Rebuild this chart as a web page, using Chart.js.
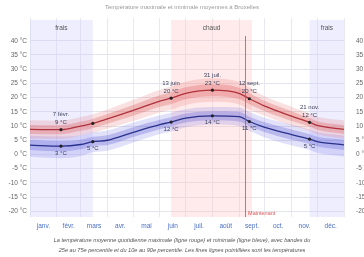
<!DOCTYPE html>
<html><head><meta charset="utf-8">
<script src="https://cdn.jsdelivr.net/npm/chart.js@4/dist/chart.umd.min.js"></script>
<style>html,body{margin:0;padding:0;background:#fff}#c{display:block}</style>
</head><body>
<canvas id="c" width="364" height="257"></canvas>
<script>
// ---- data ----
const monthNames = ['janv.','févr.','mars','avr.','mai','juin','juil.','août','sept.','oct.','nov.','déc.'];
const monthStarts = [0,31,59,90,120,151,181,212,243,273,304,334,365];
const yTickValues = [-20,-15,-10,-5,0,5,10,15,20,25,30,35,40];

const days   = [0, 36, 59, 73, 90, 120, 151, 164, 181, 212, 243, 255, 273, 304, 325, 334, 365];
const high   = [8.8, 8.7, 10, 10.9, 12.5, 15.5, 18.8, 19.8, 21.5, 22.6, 21.5, 19.6, 17, 13.5, 11.3, 10.2, 8.8];
const low    = [3.3, 2.9, 3.5, 4.5, 5.0, 7.8, 10.5, 11.4, 12.8, 13.6, 13.3, 11.6, 9.5, 7, 5.4, 4.5, 3.4];
const high90 = [12, 11.9, 13.2, 14.1, 15.8, 19.2, 22.8, 23.9, 25.6, 26.8, 25.5, 23.5, 20.5, 16.8, 14.4, 13.3, 12];
const high75 = [10.4, 10.3, 11.6, 12.5, 14.2, 17.4, 20.8, 21.9, 23.6, 24.7, 23.5, 21.5, 18.8, 15.2, 12.8, 11.7, 10.4];
const high25 = [7.2, 7.1, 8.3, 9.2, 10.8, 13.6, 16.8, 17.7, 19.4, 20.5, 19.5, 17.7, 15.2, 11.8, 9.8, 8.7, 7.2];
const high10 = [5.6, 5.5, 6.7, 7.6, 9.1, 11.8, 14.8, 15.7, 17.4, 18.5, 17.6, 15.8, 13.5, 10.2, 8.3, 7.1, 5.6];
const low90  = [6.6, 6.3, 6.8, 7.8, 8.4, 11.2, 13.8, 14.7, 15.9, 16.7, 16.5, 14.9, 12.9, 10.5, 8.7, 7.8, 6.7];
const low75  = [5.1, 4.7, 5.2, 6.2, 6.8, 9.6, 12.2, 13.1, 14.4, 15.2, 15, 13.3, 11.3, 8.8, 7.1, 6.2, 5.2];
const low25  = [1.6, 1.1, 1.8, 2.9, 3.3, 6.1, 8.9, 9.8, 11.2, 12, 11.6, 10, 7.8, 5.2, 3.7, 2.8, 1.6];
const low10  = [-0.8, -1.3, -0.5, 0.8, 1.3, 4.2, 7.2, 8.1, 9.6, 10.5, 10, 8.3, 6, 3.2, 1.6, 0.6, -0.8];

const markDays      = [36, 73, 164, 212, 255, 325];
const markDates     = ['7 févr.', '', '13 juin', '31 juil.', '12 sept.', '21 nov.'];
const markHighTexts = ['9 °C', '', '20 °C', '23 °C', '20 °C', '12 °C'];
const markLowTexts  = ['3 °C', '5 °C', '12 °C', '14 °C', '11 °C', '5 °C'];

const seasonNames = ['frais', 'chaud', 'frais'];
const seasonStart = [0, 164, 325];
const seasonEnd   = [73, 258, 365];
const nowDay = 250;
const nowLabel = 'Maintenant';

const titleText = 'Température maximale et minimale moyennes à Bruxelles';
const captionLines = [
  'La température moyenne quotidienne maximale (ligne rouge) et minimale (ligne bleue), avec bandes du',
  '25e au 75e percentile et du 10e au 90e percentile. Les fines lignes pointillées sont les températures'
];

// ---- chart ----
const FONT = "'Liberation Sans', Arial, sans-serif";
Chart.defaults.font.family = FONT;
const pts = arr => days.map((d, i) => ({x: d, y: arr[i]}));
const isMark = i => markDays.includes(days[i]);

function band(data, fillTarget, color) {
  return {data: pts(data), borderWidth: 0, pointRadius: 0, fill: fillTarget === null ? false : {target: fillTarget},
          backgroundColor: color, borderColor: 'rgba(0,0,0,0)', cubicInterpolationMode: 'monotone'};
}

const seasonPlugin = {
  id: 'seasons',
  beforeDatasetsDraw(chart) {
    const {ctx, chartArea: a, scales: {x}} = chart;
    ctx.save();
    seasonNames.forEach((n, i) => {
      const x0 = x.getPixelForValue(seasonStart[i]), x1 = x.getPixelForValue(seasonEnd[i]);
      ctx.fillStyle = n === 'chaud' ? 'rgba(255,190,190,0.3)' : 'rgba(200,200,255,0.3)';
      ctx.fillRect(x0, a.top + 2, x1 - x0, a.bottom - a.top - 2);
    });
    ctx.restore();
  },
  afterDatasetsDraw(chart) {
    const {ctx, chartArea: a, scales: {x}} = chart;
    ctx.save();
    ctx.font = '6.5px ' + FONT; ctx.fillStyle = '#555'; ctx.textAlign = 'center'; ctx.textBaseline = 'middle';
    seasonNames.forEach((n, i) => {
      const xm = (x.getPixelForValue(seasonStart[i]) + x.getPixelForValue(seasonEnd[i])) / 2;
      ctx.fillText(n, xm, a.top + 10);
    });
    const xn = x.getPixelForValue(nowDay);
    ctx.strokeStyle = 'rgba(220,70,70,0.8)'; ctx.lineWidth = 1;
    ctx.beginPath(); ctx.moveTo(Math.round(xn) + 0.5, a.top + 18); ctx.lineTo(Math.round(xn) + 0.5, a.bottom); ctx.stroke();
    ctx.fillStyle = 'rgba(220,70,70,0.9)'; ctx.textAlign = 'left'; ctx.font = '5.5px ' + FONT;
    ctx.fillText(nowLabel, xn + 3, a.bottom - 4);
    const mh = chart.getDatasetMeta(0).data, ml = chart.getDatasetMeta(1).data;
    ctx.textAlign = 'center'; ctx.font = '6px ' + FONT; ctx.fillStyle = '#3a3f5a';
    markDays.forEach((d, k) => {
      const i = days.indexOf(d);
      const ph = mh[i], pl = ml[i];
      if (markDates[k]) ctx.fillText(markDates[k], ph.x, ph.y - 15);
      if (markHighTexts[k]) ctx.fillText(markHighTexts[k], ph.x, ph.y - 7);
      if (markLowTexts[k]) ctx.fillText(markLowTexts[k], pl.x, pl.y + 7);
    });
    ctx.restore();
  },
  afterDraw(chart) {
    const {ctx, width} = chart;
    ctx.save();
    ctx.textAlign = 'center'; ctx.textBaseline = 'middle';
    ctx.fillStyle = '#9a9a9a'; ctx.font = '6px ' + FONT;
    ctx.fillText(titleText, width / 2, 7);
    ctx.fillStyle = '#555'; ctx.font = 'italic 5.6px ' + FONT;
    captionLines.forEach((l, i) => ctx.fillText(l, width / 2, 240 + i * 10));
    ctx.restore();
  }
};

const yCommon = {
  type: 'linear', min: -22, max: 48,
  afterBuildTicks: s => { s.ticks = yTickValues.map(v => ({value: v})); },
  border: {display: false},
  ticks: {callback: v => v + ' °C', color: '#666', font: {size: 6.5}, padding: 3}
};

new Chart(document.getElementById('c'), {
  type: 'line',
  data: {
    datasets: [
      {data: pts(high), borderColor: '#b0323c', borderWidth: 1.3, fill: false, cubicInterpolationMode: 'monotone',
       pointRadius: c => isMark(c.dataIndex) ? 1.6 : 0, pointBackgroundColor: '#222', pointBorderWidth: 0},
      {data: pts(low), borderColor: '#28318c', borderWidth: 1.3, fill: false, cubicInterpolationMode: 'monotone',
       pointRadius: c => isMark(c.dataIndex) ? 1.6 : 0, pointBackgroundColor: '#222', pointBorderWidth: 0},
      band(high90, 3, 'rgba(232,120,120,0.22)'),
      band(high10, null, 'rgba(0,0,0,0)'),
      band(high75, 5, 'rgba(215,80,80,0.3)'),
      band(high25, null, 'rgba(0,0,0,0)'),
      band(low90, 7, 'rgba(120,120,230,0.22)'),
      band(low10, null, 'rgba(0,0,0,0)'),
      band(low75, 9, 'rgba(85,85,205,0.3)'),
      band(low25, null, 'rgba(0,0,0,0)')
    ]
  },
  options: {
    responsive: false, animation: false,
    layout: {padding: {top: 18, bottom: 26, left: 0, right: 0}},
    plugins: {legend: {display: false}, tooltip: {enabled: false}},
    scales: {
      x: {
        type: 'linear', min: 0, max: 365,
        afterBuildTicks: s => {
          const t = [];
          for (let i = 0; i < 12; i++) {
            t.push({value: monthStarts[i]});
            t.push({value: (monthStarts[i] + monthStarts[i + 1]) / 2});
          }
          t.push({value: 365});
          s.ticks = t;
        },
        afterFit: s => { s.height = 14; },
        border: {display: false},
        grid: {drawTicks: false, color: c => (c.tick && monthStarts.includes(c.tick.value)) ? '#e8e8ef' : 'rgba(0,0,0,0)'},
        ticks: {autoSkip: false, maxRotation: 0, padding: 5, color: '#4a6fc4', font: {size: 6.5},
          callback: v => { const i = monthStarts.findIndex((s, k) => k < 12 && (s + monthStarts[k + 1]) / 2 === v); return i >= 0 ? monthNames[i] : ''; }}
      },
      y: Object.assign({}, yCommon, {position: 'left', afterFit: s => { s.width = 30; },
        grid: {drawTicks: false, color: '#e4e4eb'}}),
      y2: Object.assign({}, yCommon, {position: 'right', afterFit: s => { s.width = 20; },
        grid: {display: false}, ticks: Object.assign({}, yCommon.ticks, {padding: 4})})
    }
  },
  plugins: [seasonPlugin]
});
</script>
</body></html>
